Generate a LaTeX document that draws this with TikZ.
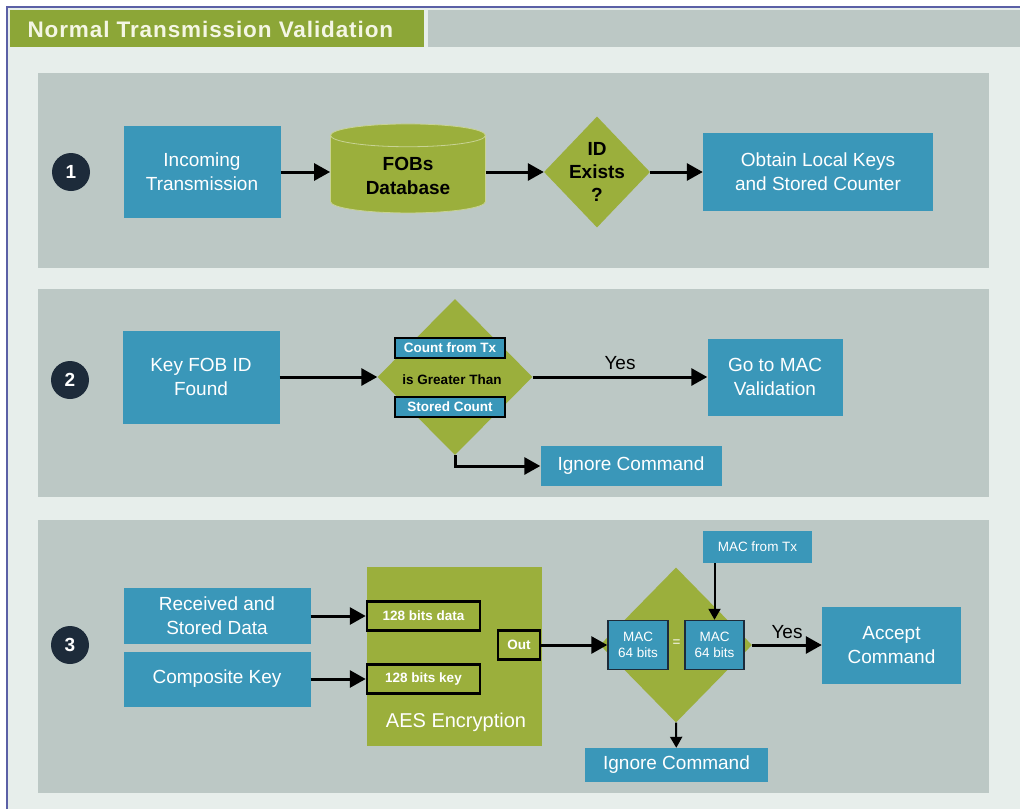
\documentclass[tikz,border=0pt]{standalone}
\usepackage{fontspec}
\setmainfont{Liberation Sans}
\newfontfamily\titlefont[LetterSpace=4]{Liberation Sans}
\usetikzlibrary{positioning, arrows.meta, shapes.geometric}
\definecolor{pagebg}{HTML}{E7EEEB}
\definecolor{panelgray}{HTML}{BCC8C5}
\definecolor{barblue}{HTML}{3A97B9}
\definecolor{leafgreen}{HTML}{9BAF3C}
\definecolor{titlegreen}{HTML}{8CA637}
\definecolor{titlecream}{HTML}{F4F6E4}
\definecolor{stepnavy}{HTML}{1D2B3A}
\definecolor{framelilac}{HTML}{5B60A6}
\newcommand\boxfont{\fontsize{19}{24}\selectfont}
\newcommand\smallboxfont{\fontsize{13.5}{16}\selectfont}

\begin{document}
\begin{tikzpicture}[x=1pt, y=-1pt,
    panel/.style={fill=panelgray},
    bluebox/.style={fill=barblue, text=white, align=center, inner sep=2pt, font=\boxfont},
    greenbox/.style={fill=leafgreen, inner sep=0pt},
    slot/.style={draw=black, line width=2.5pt, inner sep=0pt, text=white, font=\smallboxfont\bfseries},
    stepmark/.style={circle, fill=stepnavy, minimum size=38pt, inner sep=0pt, text=white, font=\fontsize{19}{22}\selectfont\bfseries},
    flow/.style={line width=3pt, -{Triangle[length=16pt, width=17pt]}},
    thinflow/.style={line width=2pt, -{Triangle[length=11pt, width=12pt]}}]

  \useasboundingbox (0,0) rectangle (1020,809);
  \fill[white] (0,0) rectangle (1020,809);
  \fill[pagebg] (7,7) rectangle (1020,809);
  \draw[framelilac, line width=1.2pt] (7,809) -- (7,7) -- (1020,7);

  \fill[titlegreen] (10,10) rectangle (424,47);
  \fill[panelgray] (428,10) rectangle (1020,47);
  \node[anchor=west, text=titlecream, font=\fontsize{22.5}{24}\titlefont\bfseries] (title) at (24,29) {Normal Transmission Validation};

  \fill[panel] (38,73) rectangle (989,268);
  \fill[panel] (38,289) rectangle (989,497);
  \fill[panel] (38,520) rectangle (989,793);

  % 1
  \node[stepmark] (one) at (71,172) {1};
  \node[bluebox, minimum width=157pt, minimum height=92pt] (incoming) at (202,172) {Incoming\\Transmission};
  \node[cylinder, shape border rotate=90, aspect=0.25, fill=leafgreen, draw=leafgreen!55!white, line width=0.8pt,
        minimum width=155pt, minimum height=89pt, align=center, font=\boxfont\bfseries] (fobs) at (408,176) {FOBs\\Database};
  \node[diamond, greenbox, minimum width=106pt, minimum height=111pt] (idcheck) at (597,172) {};
  \node[align=center, font=\fontsize{19}{23}\selectfont\bfseries] (idtext) at (idcheck.center) {ID\\Exists\\?};
  \node[bluebox, minimum width=230pt, minimum height=78pt] (obtain) at (818,172) {Obtain Local Keys\\and Stored Counter};
  \draw[flow] (incoming) -- (incoming -| fobs.west);
  \draw[flow] (fobs.east |- idcheck) -- (idcheck);
  \draw[flow] (idcheck) -- (obtain);

  % 2
  \node[stepmark] (two) at (70,380) {2};
  \node[bluebox, minimum width=157pt, minimum height=93pt] (keyfob) at (201,377) {Key FOB ID\\Found};
  \node[diamond, greenbox, minimum width=155pt, minimum height=156pt] (countcheck) at (455,377) {};
  \node[slot, fill=barblue, minimum width=110pt, minimum height=20pt] (counttx) at (450,348) {Count from Tx};
  \node[font=\smallboxfont\bfseries] (greater) at (452,380) {is Greater Than};
  \node[slot, fill=barblue, minimum width=110pt, minimum height=20pt] (storedcount) at (450,407) {Stored Count};
  \node[bluebox, minimum width=135pt, minimum height=77pt] (gomac) at (775,377) {Go to MAC\\Validation};
  \node[bluebox, minimum width=181pt, minimum height=40pt] (ignoreone) at (631,466) {Ignore Command};
  \draw[flow] (keyfob) -- (countcheck);
  \draw[flow] (countcheck) -- node[above=2pt, font=\boxfont] (yesone) {Yes} (gomac);
  \draw[flow] (countcheck.south) |- (ignoreone);

  % 3
  \node[stepmark] (three) at (70,645) {3};
  \node[bluebox, minimum width=187pt, minimum height=56pt] (received) at (217,616) {Received and\\Stored Data};
  \node[bluebox, minimum width=187pt, minimum height=55pt] (composite) at (217,679) {Composite Key};
  \node[greenbox, minimum width=175pt, minimum height=179pt] (aes) at (454.5,656.5) {};
  \node[slot, fill=leafgreen, minimum width=113pt, minimum height=29pt] (datain) at (423.5,616) {128 bits data};
  \node[slot, fill=leafgreen, minimum width=113pt, minimum height=29pt] (keyin) at (423.5,679) {128 bits key};
  \node[slot, fill=leafgreen, minimum width=42pt, minimum height=29pt] (out) at (519,645) {Out};
  \node[text=white, font=\fontsize{20}{24}\selectfont] (aeslabel) at (456,722) {AES Encryption};
  \node[diamond, greenbox, minimum width=152pt, minimum height=155pt] (maccheck) at (676,645) {};
  \node[slot, fill=barblue, draw=stepnavy, line width=1.5pt, font=\smallboxfont, align=center,
        minimum width=60pt, minimum height=49pt] (macout) at (638,645) {MAC\\64 bits};
  \node[slot, fill=barblue, draw=stepnavy, line width=1.5pt, font=\smallboxfont, align=center,
        minimum width=59pt, minimum height=49pt] (macrx) at (714.5,645) {MAC\\64 bits};
  \node[text=white, font=\smallboxfont] (equals) at (676.5,643) {=};
  \node[bluebox, font=\smallboxfont, minimum width=109pt, minimum height=32pt] (mactx) at (757.5,547) {MAC from Tx};
  \node[bluebox, minimum width=139pt, minimum height=77pt] (accept) at (891.5,645) {Accept\\Command};
  \node[bluebox, minimum width=183pt, minimum height=34pt] (ignoretwo) at (676.5,765) {Ignore Command};
  \draw[flow] (received) -- (datain);
  \draw[flow] (composite) -- (keyin);
  \draw[flow] (out) -- (macout);
  \draw[thinflow] (mactx.south -| macrx.north) -- (macrx.north);
  \draw[flow] (maccheck.east) -- node[above=1pt, font=\boxfont] (yestwo) {Yes} (accept);
  \draw[thinflow] (maccheck.south) -- (ignoretwo);
\end{tikzpicture}
\end{document}
